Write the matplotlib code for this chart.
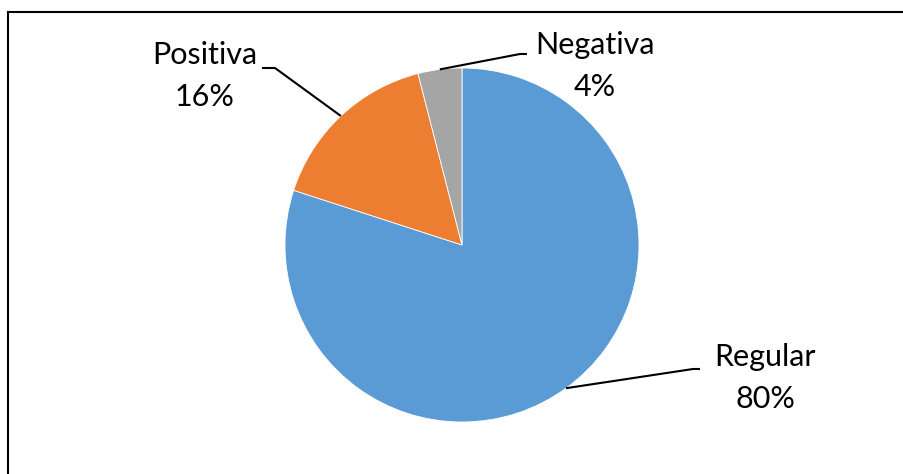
import numpy as np
import matplotlib
matplotlib.use("Agg")
import matplotlib.pyplot as plt

categories = ["Regular", "Positiva", "Negativa"]
values = [80, 16, 4]
pct_labels = ["80%", "16%", "4%"]
colors = ["#5B9BD5", "#ED7D31", "#A5A5A5"]

W, H = 904, 474
fig = plt.figure(figsize=(W / 100, H / 100), dpi=100)
ax = fig.add_axes([0, 0, 1, 1])

cx, cy, r = 462, H - 245, 177
wedges, _ = ax.pie(values, colors=colors, startangle=90, counterclock=False,
                   center=(cx, cy), radius=r, frame=True,
                   wedgeprops=dict(edgecolor="white", linewidth=0.6))
ax.set_xlim(0, W)
ax.set_ylim(0, H)
ax.set_aspect("equal")
ax.axis("off")

# label layout: text center of first line, elbow point, line end point
layout = {
    "Regular": dict(tx=765, ty=H - 357, elbow=(693, H - 369), end=(700, H - 369)),
    "Positiva": dict(tx=205, ty=H - 55, elbow=(275, H - 68), end=(262, H - 68)),
    "Negativa": dict(tx=595, ty=H - 45, elbow=(520, H - 54), end=(527, H - 54)),
}

font = ["Lato", "DejaVu Sans"]
for w, cat, pl in zip(wedges, categories, pct_labels):
    mid = np.deg2rad((w.theta1 + w.theta2) / 2)
    px, py = cx + r * np.cos(mid), cy + r * np.sin(mid)
    L = layout[cat]
    ax.plot([px, L["elbow"][0], L["end"][0]], [py, L["elbow"][1], L["end"][1]],
            color="black", lw=1.5, solid_capstyle="butt")
    ax.text(L["tx"], L["ty"], cat, ha="center", va="center", fontsize=22, family=font)
    ax.text(L["tx"], L["ty"] - 42, pl, ha="center", va="center", fontsize=22, family=font)

# chart frame
ax.plot([8, W], [H - 12, H - 12], color="black", lw=1.5)
ax.plot([8, 8], [H - 12, 0], color="black", lw=1.5)

fig.savefig("out.png", dpi=100)
